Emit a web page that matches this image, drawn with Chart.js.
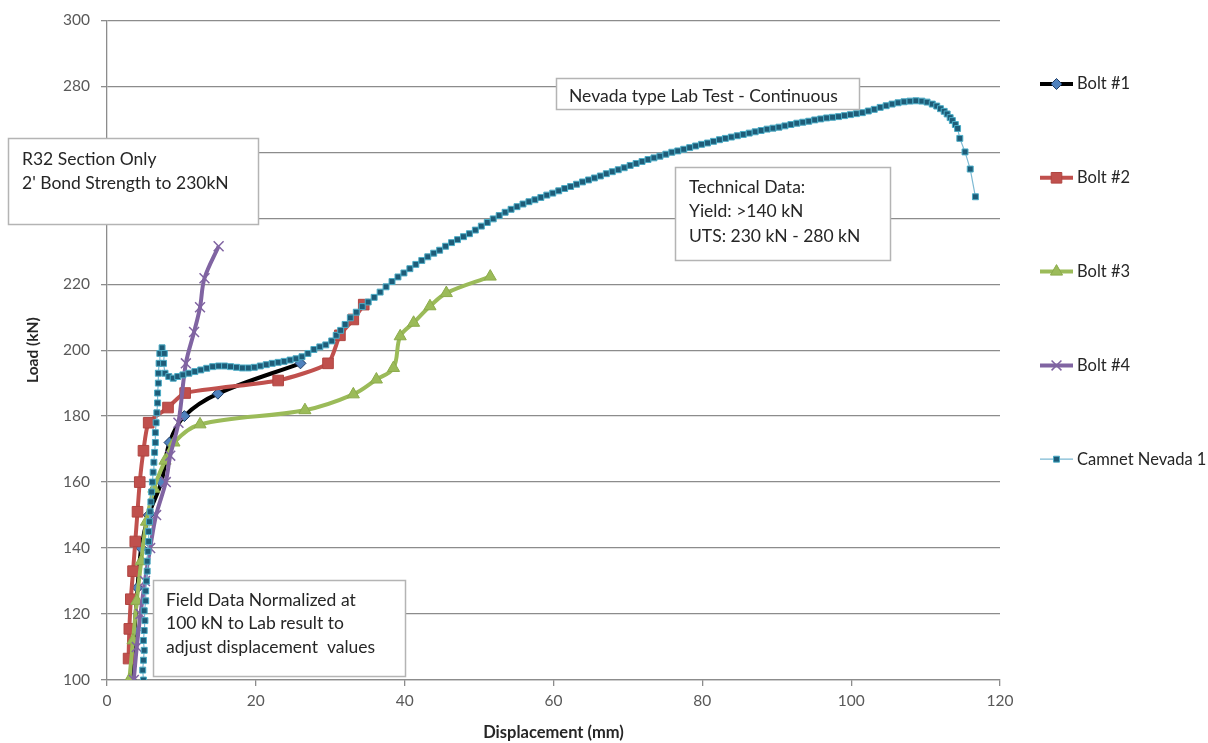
<!DOCTYPE html>
<html>
<head>
<meta charset="utf-8">
<script src="https://cdn.jsdelivr.net/npm/chart.js@4.4.1/dist/chart.umd.min.js"></script>
<style>
  html, body { margin: 0; padding: 0; background: #ffffff; }
  #wrap { width: 1208px; height: 743px; position: relative; }
</style>
</head>
<body>
<div id="wrap"><canvas id="c" width="1208" height="743"></canvas></div>
<script>
// ---- Data (displacement mm, load kN) ----
const seriesNames = ['Bolt #1', 'Bolt #2', 'Bolt #3', 'Bolt #4', 'Camnet Nevada 1'];

const bolt1X = [3.2, 3.7, 4.1, 4.6, 5.6, 7.3, 8.4, 10.4, 14.9, 26.0];
const bolt1Y = [100, 115, 128, 140, 150, 160, 172, 180, 186.8, 196];

const bolt2X = [2.9, 3.0, 3.2, 3.5, 3.8, 4.1, 4.4, 4.9, 5.6, 8.2, 10.5, 23.0, 29.7, 31.3, 33.1, 34.5];
const bolt2Y = [106.5, 115.5, 124.5, 133, 142, 151, 160, 169.5, 178, 182.6, 187, 190.8, 196, 204.5, 209.3, 213.8];

const bolt3X = [3.0, 3.5, 4.0, 4.6, 5.3, 6.3, 7.8, 9.0, 12.5, 26.6, 33.1, 36.2, 38.5, 39.4, 41.2, 43.4, 45.6, 51.5];
const bolt3Y = [100, 112, 124, 136, 148, 158, 166.5, 172, 177.5, 181.8, 186.6, 191.1, 194.6, 204.2, 208.3, 213.3, 217.3, 222.3];

const bolt4X = [3.6, 4.0, 4.5, 5.1, 5.8, 6.6, 7.9, 8.5, 9.6, 10.6, 11.7, 12.5, 13.1, 15.0];
const bolt4Y = [100, 110, 120, 130, 140, 150, 160, 168, 178, 196, 205.5, 213, 221.8, 231.5];

const camnetX = [4.9,4.8,4.9,5.0,4.9,5.0,5.1,5.0,5.2,5.2,5.3,5.4,5.4,5.5,5.6,5.6,5.7,5.8,5.9,6.0,6.1,6.2,6.3,6.4,6.5,6.5,6.6,6.7,6.8,6.8,6.9,6.9,7.0,7.1,7.4,7.7,7.6,7.8,8.3,8.9,9.5,10.2,11.0,11.8,12.6,13.4,14.2,15.0,15.8,16.6,17.4,18.2,19.0,19.8,20.6,21.4,22.2,23.0,23.8,24.6,25.4,26.2,27.0,27.8,28.6,29.4,30.2,30.8,31.4,32.0,32.7,33.5,34.3,35.1,35.9,36.7,37.5,38.3,39.1,39.9,40.7,41.5,42.3,43.1,43.9,44.7,45.5,46.3,47.1,47.9,48.7,49.5,50.3,51.1,51.9,52.7,53.5,54.3,55.1,55.9,56.7,57.5,58.3,59.1,59.9,60.7,61.5,62.3,63.1,63.9,64.7,65.5,66.3,67.1,67.9,68.7,69.5,70.3,71.1,71.9,72.7,73.5,74.3,75.1,75.9,76.7,77.5,78.3,79.1,79.9,80.7,81.5,82.3,83.1,83.9,84.7,85.5,86.3,87.1,87.9,88.7,89.5,90.3,91.1,91.9,92.7,93.5,94.3,95.1,95.9,96.7,97.5,98.3,99.1,99.9,100.7,101.5,102.3,103.1,103.9,104.7,105.5,106.3,107.1,107.9,108.7,109.5,110.2,110.9,111.5,112.0,112.5,112.9,113.3,113.6,114.0,114.3,114.6,115.3,116.0,116.7];
const camnetY = [100,103,106,109,112,115,118,121,124,127,130,133,136,139,142,145,148,151,154,157,160,163,166,169,172,175,178,181,184,187,190,193,196,199,200.7,199,196,193,192,191.5,192,192.5,193,193.5,194,194.5,195,195.2,195.2,195,194.8,194.6,194.6,194.8,195.2,195.6,196,196.3,196.6,197,197.4,198,199,200.2,201,201.6,202.8,204.5,206,207.8,209.8,211.5,213.2,214.6,216,217.6,219.2,220.8,222.2,223.4,224.7,226,227.2,228.3,229.4,230.3,231.5,232.6,233.5,234.4,235.3,236.4,237.6,238.7,239.8,240.8,241.8,242.7,243.5,244.3,245,245.6,246.3,247,247.6,248.3,249,249.6,250.3,251,251.6,252.2,252.8,253.5,254.1,254.7,255.3,256,256.6,257.2,257.8,258.3,258.8,259.4,260,260.4,260.9,261.4,261.9,262.4,262.8,263.3,263.8,264.2,264.6,265,265.4,265.8,266.2,266.6,267,267.3,267.6,268,268.4,268.8,269.1,269.4,269.8,270.1,270.4,270.6,270.8,271.1,271.4,271.7,272,272.5,273,273.6,274.1,274.6,275,275.3,275.5,275.6,275.5,275.2,274.6,274.0,273.2,272.4,271.6,270.5,269.6,268.4,267.2,264.2,260.1,254.9,246.5];

const xTicks = [0, 20, 40, 60, 80, 100, 120];
const yTicks = [100, 120, 140, 160, 180, 200, 220, 240, 260, 280, 300];

const noteTexts = [
  ['R32 Section Only', "2' Bond Strength to 230kN"],
  ['Nevada type Lab Test - Continuous'],
  ['Technical Data:', 'Yield: >140 kN', 'UTS: 230 kN - 280 kN'],
  ['Field Data Normalized at', '100 kN to Lab result to', 'adjust displacement  values']
];

// ---- helpers ----
const pts = (xs, ys) => xs.map((x, i) => ({ x: x, y: ys[i] }));
const FONT = 'Lato, "Open Sans", "Liberation Sans", sans-serif';

// Annotation boxes (layout only)
const noteBoxes = [
  { x: 8, y: 138, w: 250, h: 86, tx: 22, ty: 159, lh: 24 },
  { x: 556, y: 78, w: 303, h: 31, tx: 569, ty: 96, lh: 24 },
  { x: 675, y: 167, w: 215, h: 93, tx: 689, ty: 187, lh: 24.5 },
  { x: 153, y: 580, w: 252, h: 96, tx: 166, ty: 600, lh: 23.5 }
];

const notesPlugin = {
  id: 'notes',
  afterDatasetsDraw(chart) {
    const ctx = chart.ctx;
    ctx.save();
    noteBoxes.forEach((b, i) => {
      ctx.fillStyle = '#ffffff';
      ctx.fillRect(b.x, b.y, b.w, b.h);
      ctx.strokeStyle = '#b4b4b4';
      ctx.lineWidth = 1.5;
      ctx.strokeRect(b.x + 0.5, b.y + 0.5, b.w, b.h);
      ctx.fillStyle = '#262626';
      ctx.font = '17.5px ' + FONT;
      ctx.textBaseline = 'middle';
      ctx.textAlign = 'left';
      noteTexts[i].forEach((t, j) => ctx.fillText(t, b.tx, b.ty + j * b.lh));
    });
    ctx.restore();
  }
};

const legendPlugin = {
  id: 'sideLegend',
  afterDraw(chart) {
    const ctx = chart.ctx;
    ctx.save();
    chart.data.datasets.forEach((ds, i) => {
      const y = 84 + i * 93.8;
      const x0 = 1040, x1 = 1073;
      ctx.strokeStyle = ds.borderColor;
      ctx.lineWidth = Math.min(ds.borderWidth, 4);
      ctx.beginPath();
      ctx.moveTo(x0, y);
      ctx.lineTo(x1, y);
      ctx.stroke();
      ctx.fillStyle = ds.pointBackgroundColor;
      ctx.strokeStyle = ds.pointBorderColor;
      ctx.lineWidth = ds.pointBorderWidth;
      Chart.helpers.drawPoint(ctx, { pointStyle: ds.pointStyle, radius: ds.pointRadius, borderWidth: ds.pointBorderWidth, rotation: 0 }, (x0 + x1) / 2, y);
      ctx.fillStyle = '#262626';
      ctx.font = '16.5px ' + FONT;
      ctx.textBaseline = 'middle';
      ctx.textAlign = 'left';
      ctx.fillText(ds.label, 1077, y);
    });
    ctx.restore();
  }
};

const datasets = [
  { label: seriesNames[0], data: pts(bolt1X, bolt1Y), borderColor: '#000000', borderWidth: 4,
    pointStyle: 'rectRot', pointRadius: 5.5, pointBackgroundColor: '#4F81BD', pointBorderColor: '#1F3B63', pointBorderWidth: 1, order: 4, tension: 0.35 },
  { label: seriesNames[1], data: pts(bolt2X, bolt2Y), borderColor: '#C0504D', borderWidth: 4,
    pointStyle: 'rect', pointRadius: 7.5, pointBackgroundColor: '#C0504D', pointBorderColor: '#B04541', pointBorderWidth: 1, order: 3, tension: 0.2 },
  { label: seriesNames[2], data: pts(bolt3X, bolt3Y), borderColor: '#9BBB59', borderWidth: 4,
    pointStyle: 'triangle', pointRadius: 7, pointBackgroundColor: '#9BBB59', pointBorderColor: '#8CAB4C', pointBorderWidth: 1, order: 2, tension: 0.35 },
  { label: seriesNames[3], data: pts(bolt4X, bolt4Y), borderColor: '#8064A2', borderWidth: 4,
    pointStyle: 'crossRot', pointRadius: 7, pointBackgroundColor: '#8064A2', pointBorderColor: '#8064A2', pointBorderWidth: 1.5, order: 1, tension: 0.35 },
  { label: seriesNames[4], data: pts(camnetX, camnetY), borderColor: '#7DB9D3', borderWidth: 1.2,
    pointStyle: 'rect', pointRadius: 4.2, pointBackgroundColor: '#1E5C78', pointBorderColor: '#4BACC6', pointBorderWidth: 1, order: 0, tension: 0 }
];

new Chart(document.getElementById('c'), {
  type: 'scatter',
  data: { datasets: datasets.map(d => Object.assign({ showLine: true, fill: false, pointHoverRadius: d.pointRadius }, d)) },
  options: {
    responsive: false,
    animation: false,
    events: [],
    layout: { padding: { top: 18, right: 208, left: 0, bottom: 0 } },
    plugins: { legend: { display: false }, tooltip: { enabled: false } },
    scales: {
      x: {
        type: 'linear', min: 0, max: 120,
        afterBuildTicks: (s) => { s.ticks = xTicks.map(v => ({ value: v })); },
        afterFit: (s) => { s.height = 63; },
        grid: { drawOnChartArea: false, drawTicks: true, tickLength: 6, color: '#8c8c8c', lineWidth: 1.3 },
        border: { display: true, color: '#8c8c8c', width: 1.3 },
        ticks: { color: '#595959', font: { family: FONT, size: 15.5 }, padding: 6, maxRotation: 0 },
        title: { display: true, text: 'Displacement (mm)', color: '#262626', font: { family: FONT, size: 16.5, weight: 'bold' }, padding: { top: 0, bottom: 0 } }
      },
      y: {
        type: 'linear', min: 100, max: 300,
        afterBuildTicks: (s) => { s.ticks = yTicks.map(v => ({ value: v })); },
        afterFit: (s) => { s.width = 107; },
        grid: { drawOnChartArea: true, drawTicks: true, tickLength: 6, color: '#8c8c8c', lineWidth: 1.3 },
        border: { display: true, color: '#8c8c8c', width: 1.3 },
        ticks: { color: '#595959', font: { family: FONT, size: 15.5 }, padding: 11 },
        title: { display: true, text: 'Load (kN)', color: '#262626', font: { family: FONT, size: 15.5, weight: 'bold' }, padding: { top: 24, bottom: 0 } }
      }
    }
  },
  plugins: [notesPlugin, legendPlugin]
});
</script>
</body>
</html>
